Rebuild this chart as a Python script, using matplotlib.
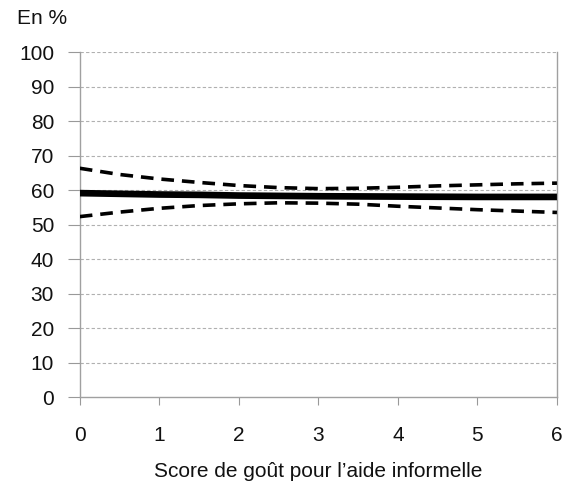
import matplotlib
matplotlib.use("Agg")
import matplotlib.pyplot as plt

# score values and estimated percentages
score = [0, 0.5, 1, 1.5, 2, 2.5, 3, 3.5, 4, 4.5, 5, 5.5, 6]
central = [59.1, 58.9, 58.7, 58.6, 58.4, 58.3, 58.2, 58.15, 58.1, 58.05, 58.0, 58.0, 58.0]
upper = [66.3, 64.5, 63.2, 62.2, 61.3, 60.7, 60.4, 60.5, 60.8, 61.2, 61.5, 61.8, 62.0]
lower = [52.3, 53.6, 54.7, 55.5, 56.0, 56.3, 56.2, 55.9, 55.3, 54.8, 54.3, 53.9, 53.5]

x_ticks = [0, 1, 2, 3, 4, 5, 6]
y_ticks = list(range(0, 101, 10))

plt.rcParams["font.family"] = ["Liberation Sans", "DejaVu Sans"]

fig = plt.figure(figsize=(5.66, 4.86), dpi=100)
ax = fig.add_axes([0.141, 0.183, 0.843, 0.71])

for y in y_ticks[1:]:
    ax.axhline(y, color="#b0b0b0", lw=0.8, ls=(0, (3, 2)), zorder=1)

ax.plot(score, upper, color="black", lw=2.6, ls=(0, (3.5, 2.2)), zorder=3)
ax.plot(score, lower, color="black", lw=2.6, ls=(0, (3.5, 2.2)), zorder=3)
ax.plot(score, central, color="black", lw=4.8, solid_capstyle="butt", zorder=4)

ax.set_xlim(0, 6)
ax.set_ylim(0, 100)
ax.set_xticks(x_ticks)
ax.set_yticks(y_ticks)
ax.tick_params(axis="both", labelsize=15, colors="#999999", labelcolor="#111111")
ax.tick_params(axis="y", length=8.5, width=0.8, pad=10)
ax.tick_params(axis="x", length=6, width=0.8, pad=15)

for side in ["left", "right", "bottom", "top"]:
    ax.spines[side].set_color("#a0a0a0")
    ax.spines[side].set_linewidth(1.0)
ax.spines["top"].set_visible(False)

ax.set_xlabel("Score de goût pour l’aide informelle", fontsize=15, labelpad=12,
              color="#111111")
fig.text(0.03, 0.962, "En %", fontsize=15, ha="left", va="center", color="#111111")

fig.savefig("out.png", dpi=100)
